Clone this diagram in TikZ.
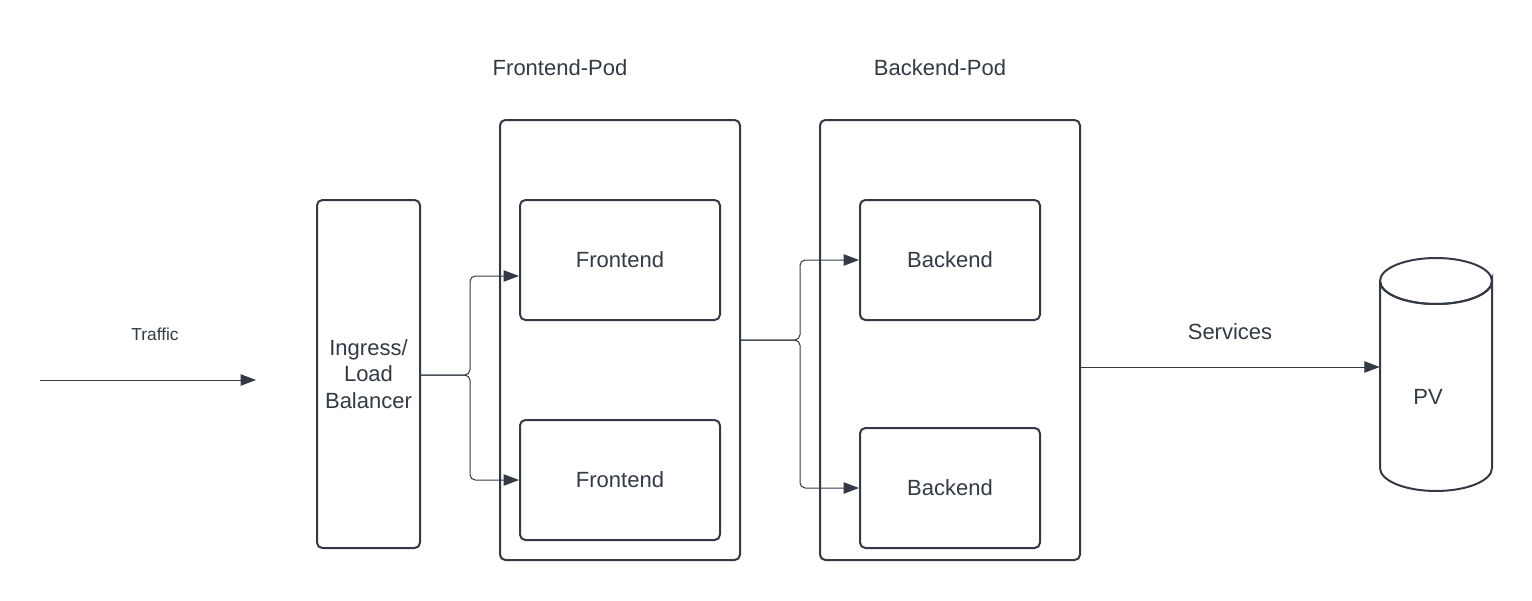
\documentclass[tikz,border=0pt]{standalone}
\usepackage{fontspec}
\setmainfont{Liberation Sans}
\usetikzlibrary{arrows.meta}
\definecolor{ink}{RGB}{51,58,69}
\begin{document}
\begin{tikzpicture}[x=0.75pt,y=-0.75pt,
  box/.style={draw=ink, line width=1.5pt, rounded corners=4pt, inner sep=0pt, text=ink,
              font=\fontsize{16.5}{19.6}\selectfont, align=center},
  lbl/.style={text=ink, font=\fontsize{16.5}{20}\selectfont, inner sep=0pt},
  small/.style={text=ink, font=\fontsize{13}{15}\selectfont, inner sep=0pt},
  conn/.style={draw=ink, line width=0.75pt, rounded corners=4pt, -{Triangle[length=11.5pt,width=8.5pt]}},
]
\useasboundingbox (0,0) rectangle (1532,600);
\fill[white] (0,0) rectangle (1532,600);

% traffic
\coordinate (ts) at (40,380);
\coordinate (te) at (256,380);
\draw[conn] (ts) -- (te);
\node[small] (traffic) at (155,334) {Traffic};

% ingress
\node[box, minimum width=77.25pt, minimum height=261pt] (ing) at (368.5,374) {Ingress/\\Load\\Balancer};

% frontend pod
\node[box, minimum width=180pt, minimum height=330pt] (fpod) at (620,340) {};
\node[lbl] (fpodlbl) at (560,68) {Frontend-Pod};
\node[box, minimum width=150pt, minimum height=90pt] (fe1) at (620,260) {Frontend};
\node[box, minimum width=150pt, minimum height=90pt] (fe2) at (620,480) {Frontend};

% backend pod
\node[box, minimum width=195pt, minimum height=330pt] (bpod) at (950,340) {};
\node[lbl] (bpodlbl) at (940,68) {Backend-Pod};
\node[box, minimum width=135pt, minimum height=90pt] (be1) at (950,260) {Backend};
\node[box, minimum width=135pt, minimum height=90pt] (be2) at (950,488) {Backend};

% PV cylinder
\node[inner sep=0pt, minimum width=84pt, minimum height=175.5pt] (pv) at (1436,374.5) {};
\draw[ink, line width=1.5pt] (1380,281) -- (1380,468) arc[start angle=180, end angle=360, x radius=56, y radius=-23]
   -- (1492,281) arc[start angle=0, end angle=-180, x radius=56, y radius=-23];
\draw[ink, line width=1.5pt] (1436,281) ellipse[x radius=56, y radius=23];
\node[lbl] (pvlbl) at (1428,397) {PV};

% connectors
\coordinate (j1) at (470,375);
\draw[conn] (ing.east |- j1) -- (j1) |- ([yshift=-12pt]fe1.west);
\draw[conn] (ing.east |- j1) -- (j1) |- (fe2.west);

\coordinate (j2) at (800,340);
\draw[conn] (fpod.east) -- (j2) |- (be1.west);
\draw[conn] (fpod.east) -- (j2) |- (be2.west);

\coordinate (s1) at ([yshift=-20.25pt]bpod.east);
\draw[conn] (s1) -- (s1 -| pv.west);
\node[lbl] (svc) at (1230,332) {Services};
\end{tikzpicture}
\end{document}
